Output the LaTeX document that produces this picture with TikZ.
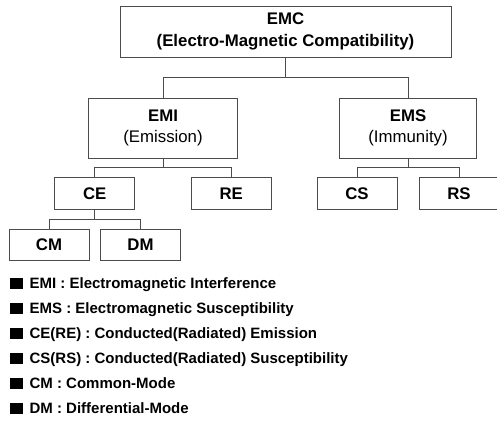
\documentclass[tikz,border=0pt]{standalone}
\usepackage{fontspec}
\setmainfont{Liberation Sans}
\usepackage{tikz}
\usetikzlibrary{calc,positioning}
\definecolor{linegray}{gray}{0.3}
\tikzset{
  treenode/.style = {align=center, inner sep=0pt, text centered, rectangle,
    draw=linegray, line width=1pt, font=\fontsize{16.8}{21.7}\selectfont\bfseries},
  emc_box/.style = {treenode, minimum width=331pt, minimum height=51pt},% root box
  em_box/.style = {treenode, minimum height=60pt},% EMI / EMS
  sub_box/.style = {treenode, minimum width=80pt, minimum height=31.5pt},% CE, RE, CS, RS, CM, DM
  sq/.style = {rectangle, fill=black, inner sep=0pt,
    minimum width=13pt, minimum height=11pt},% legend bullet
  legtext/.style = {inner sep=0pt, font=\fontsize{15}{18}\selectfont\bfseries}
}

\begin{document}
\begin{tikzpicture}[x=1pt, y=1pt,
	edge from parent/.style = {draw, linegray, line width=1pt},
	edge from parent path = {(\tikzparentnode.south) |- ($(\tikzparentnode.south)!.5!(\tikzchildnode.north)$) -| (\tikzchildnode.north)},
	level 1/.style = {level distance = 96.5pt},
	level 2/.style = {level distance = 65.5pt},
	level 3/.style = {level distance = 51.5pt}]
	\useasboundingbox (0,0) rectangle (497,-426);
	\node [emc_box] (emc) at (285.5,-31.5) {EMC\\(Electro-Magnetic Compatibility)}
	 child[sibling distance=245pt]{ node [em_box, minimum width=149pt] (emi) {EMI\\\mdseries(Emission)}
	            child[sibling distance=136.5pt]{node [sub_box] (ce) {CE}
	            	child[sibling distance=91.5pt]{node [sub_box] (cm) {CM}}
	            	child[sibling distance=91.5pt]{node [sub_box] (dm) {DM}}
				}
	            child[sibling distance=136.5pt]{node [sub_box] (re) {RE}}
	      }
	 child[sibling distance=245pt]{node [em_box, minimum width=137pt] (ems) {EMS\\\mdseries(Immunity)}
	            child[sibling distance=102pt]{node [sub_box] (cs) {CS}}
	            child[sibling distance=102pt]{node [sub_box] (rs) {RS}}
	      };
	% legend
	\node [sq, anchor=south west] (sq1) at (9.5,-288.7) {};
	\node [sq, below=13.6pt of sq1] (sq2) {};
	\node [sq, below=13.6pt of sq2] (sq3) {};
	\node [sq, below=13.6pt of sq3] (sq4) {};
	\node [sq, below=13.6pt of sq4] (sq5) {};
	\node [sq, below=13.6pt of sq5] (sq6) {};
	\node [legtext, right=6.5pt of sq1.south east, anchor=base west] (leg1) {EMI : Electromagnetic Interference};
	\node [legtext, right=6.5pt of sq2.south east, anchor=base west] (leg2) {EMS : Electromagnetic Susceptibility};
	\node [legtext, right=6.5pt of sq3.south east, anchor=base west] (leg3) {CE(RE) : Conducted(Radiated) Emission};
	\node [legtext, right=6.5pt of sq4.south east, anchor=base west] (leg4) {CS(RS) : Conducted(Radiated) Susceptibility};
	\node [legtext, right=6.5pt of sq5.south east, anchor=base west] (leg5) {CM : Common-Mode};
	\node [legtext, right=6.5pt of sq6.south east, anchor=base west] (leg6) {DM : Differential-Mode};
\end{tikzpicture}
\end{document}
